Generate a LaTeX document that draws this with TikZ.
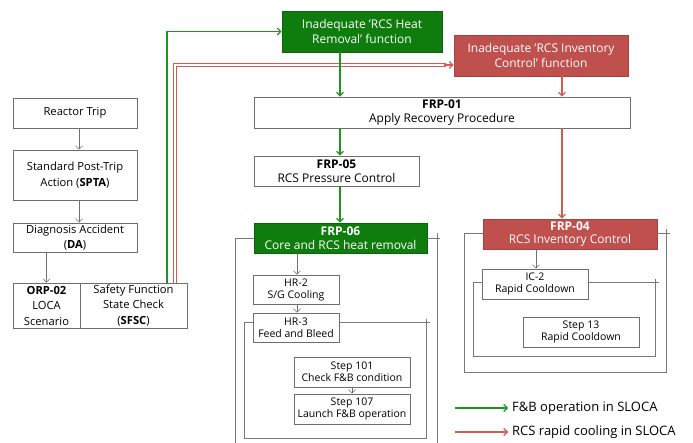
\documentclass[tikz,border=0pt]{standalone}
\usepackage{fontspec}
\setmainfont{Open Sans}
\usetikzlibrary{arrows.meta,calc}
\definecolor{gfill}{RGB}{14,125,14}
\definecolor{gline}{RGB}{30,150,30}
\definecolor{rfill}{RGB}{192,80,77}
\definecolor{rline}{RGB}{215,90,80}
\definecolor{bord}{RGB}{110,110,110}
\definecolor{cline}{RGB}{120,120,120}
\begin{document}
\begin{tikzpicture}[x=1pt,y=-1pt,
  box/.style={draw=bord, fill=white, line width=0.7pt, inner sep=0pt, align=center, font=\fontsize{12}{13.5}\selectfont},
  tbox/.style={box, font=\fontsize{12}{14.5}\selectfont},
  lbox/.style={box, font=\fontsize{11.2}{15.5}\selectfont},
  sbox/.style={box, font=\fontsize{10.5}{12}\selectfont},
  gbox/.style={fill=gfill, draw=gfill!80!black, text=white},
  rbox/.style={fill=rfill, draw=rfill!85!black, text=white},
  tip/.style={-{Straight Barb[length=3.5pt,width=7pt]}},
  garr/.style={tip, color=gline, line width=1.2pt},
  rarr/.style={tip, color=rline, line width=1.2pt},
  rthin/.style={color=rline, line width=0.9pt},
  karr/.style={tip, color=bord, line width=0.6pt},
  cont/.style={draw=cline, line width=0.8pt},
]
\useasboundingbox (0,0) rectangle (693,443);

% left column
\node[lbox, minimum width=124pt, minimum height=30pt] (rt) at (75,113) {Reactor Trip};
\node[lbox, minimum width=124pt, minimum height=50pt] (spta) at (75,175) {Standard Post-Trip\\Action (\textbf{SPTA})};
\node[lbox, minimum width=124pt, minimum height=29pt] (da) at (75,237.5) {Diagnosis Accident\\(\textbf{DA})};
\node[lbox, minimum width=67pt, minimum height=45pt] (orp) at (46.5,305.5) {\textbf{ORP-02}\\LOCA\\Scenario};
\node[lbox, minimum width=107pt, minimum height=45pt] (sfsc) at (133.5,305.5) {Safety Function\\State Check\\(\textbf{SFSC})};

% top function boxes
\node[tbox, gbox, minimum width=160pt, minimum height=41pt] (gb) at (362,31.5) {Inadequate 'RCS Heat\\Removal' function};
\node[tbox, rbox, minimum width=174pt, minimum height=41pt] (rb) at (541,55.5) {Inadequate 'RCS Inventory\\Control' function};

% FRP boxes
\node[box, minimum width=376pt, minimum height=31pt] (f01) at (442,112.5) {\textbf{FRP-01}\\Apply Recovery Procedure};
\node[box, minimum width=165pt, minimum height=30pt] (f05) at (336.5,171) {\textbf{FRP-05}\\RCS Pressure Control};
\node[box, gbox, minimum width=173pt, minimum height=30pt] (f06) at (340.5,238) {\textbf{FRP-06}\\Core and RCS heat removal};
\node[box, rbox, minimum width=174pt, minimum height=30pt] (f04) at (570,234) {\textbf{FRP-04}\\RCS Inventory Control};

% containers
\coordinate (c6tl) at (235,238);
\coordinate (c6bl) at (235,443);
\coordinate (c6tr) at (440,238);
\coordinate (c6rt) at (437,233);
\coordinate (c6rb) at (437,443);
\draw[cont] (f06.west) -- (c6tl) -- (c6bl);
\draw[cont] (f06.east) -- (c6tr);
\draw[cont] (c6rt) -- (c6rb);

\node[sbox, minimum width=86pt, minimum height=29pt] (hr2) at (296,289.5) {HR-2\\S/G Cooling};
\node[sbox, minimum width=86pt, minimum height=29pt] (hr3) at (296,327.5) {HR-3\\Feed and Bleed};
\node[sbox, minimum width=116pt, minimum height=30pt] (s101) at (352,372) {Step 101\\Check F\&B condition};
\node[sbox, minimum width=116pt, minimum height=30pt] (s107) at (352,409) {Step 107\\Launch F\&B operation};

\coordinate (c3tl) at (244,322);
\coordinate (c3bl) at (244,438);
\coordinate (c3br) at (426,438);
\coordinate (c3rt) at (426,319);
\coordinate (c3tr) at (430,322);
\draw[cont] (hr3.west |- c3tl) -- (c3tl) -- (c3bl) -- (c3br) -- (c3rt);
\draw[cont] (hr3.east |- c3tl) -- (c3tr);

\coordinate (c4tl) at (464,233);
\coordinate (c4bl) at (464,372);
\coordinate (c4br) at (666,372);
\coordinate (c4rt) at (666,229);
\coordinate (c4tr) at (670,233);
\draw[cont] (f04.west |- c4tl) -- (c4tl) -- (c4bl) -- (c4br) -- (c4rt);
\draw[cont] (f04.east |- c4tl) -- (c4tr);

\node[sbox, minimum width=106pt, minimum height=30pt] (ic2) at (535,284) {IC-2\\Rapid Cooldown};
\node[sbox, minimum width=116pt, minimum height=30pt] (s13) at (581,332) {Step 13\\Rapid Cooldown};

\coordinate (c2tl) at (473,282);
\coordinate (c2bl) at (473,356);
\coordinate (c2br) at (655,356);
\coordinate (c2rt) at (655,279);
\coordinate (c2tr) at (659,282);
\draw[cont] (ic2.west |- c2tl) -- (c2tl) -- (c2bl) -- (c2br) -- (c2rt);
\draw[cont] (ic2.east |- c2tl) -- (c2tr);

% gray arrows
\coordinate (lx) at (79,0);
\draw[karr] (rt.south -| lx) -- (spta.north -| lx);
\draw[karr] (spta.south -| lx) -- (da.north -| lx);
\draw[karr] (da.south -| orp.north) -- (orp.north);
\coordinate (hx) at (297,0);
\draw[karr] (f06.south -| hx) -- (hr2.north -| hx);
\draw[karr] (hr2.south -| hx) -- (hr3.north -| hx);
\draw[karr] (s101.south) -- (s107.north);
\coordinate (ix) at (536,0);
\draw[karr] (f04.south -| ix) -- (ic2.north -| ix);

% red double line from SFSC (two thin parallel lines)
\coordinate (rxo) at (173.5,63.5);
\coordinate (rxi) at (176.5,66.5);
\coordinate (ry) at (0,65);
\coordinate (rend) at (rb.west |- ry);
\coordinate (rpre) at (446,0);
\coordinate (rpre2) at (444,0);
\draw[rthin] (sfsc.north -| rxo) -- (rxo) -- (rpre |- rxo);
\draw[rthin] (sfsc.north -| rxi) -- (rxi) -- (rpre |- rxi);
\draw[rarr] (rpre2 |- ry) -- (rend);

% green line from SFSC
\coordinate (gx0) at (167,0);
\draw[garr] (sfsc.north -| gx0) |- (gb.west);

% green vertical chain
\coordinate (gx) at (340,0);
\draw[garr] (gb.south -| gx) -- (f01.north -| gx);
\draw[garr] (f01.south -| gx) -- (f05.north -| gx);
\draw[garr] (f05.south -| gx) -- (f06.north -| gx);

% red vertical chain
\coordinate (rvx) at (562,0);
\draw[rarr] (rb.south -| rvx) -- (f01.north -| rvx);
\draw[rarr] (f01.south -| rvx) -- (f04.north -| rvx);

% legend
\coordinate (lg1) at (455,408);
\coordinate (lg2) at (508,408);
\coordinate (lr1) at (455,432);
\coordinate (lr2) at (508,432);
\draw[garr] (lg1) -- (lg2);
\draw[rarr] (lr1) -- (lr2);
\node[anchor=west, inner sep=0pt, font=\fontsize{13}{15}\selectfont] (lgt) at (512,408) {F\&B operation in SLOCA};
\node[anchor=west, inner sep=0pt, font=\fontsize{13}{15}\selectfont] (lrt) at (512,432) {RCS rapid cooling in SLOCA};
\end{tikzpicture}
\end{document}
